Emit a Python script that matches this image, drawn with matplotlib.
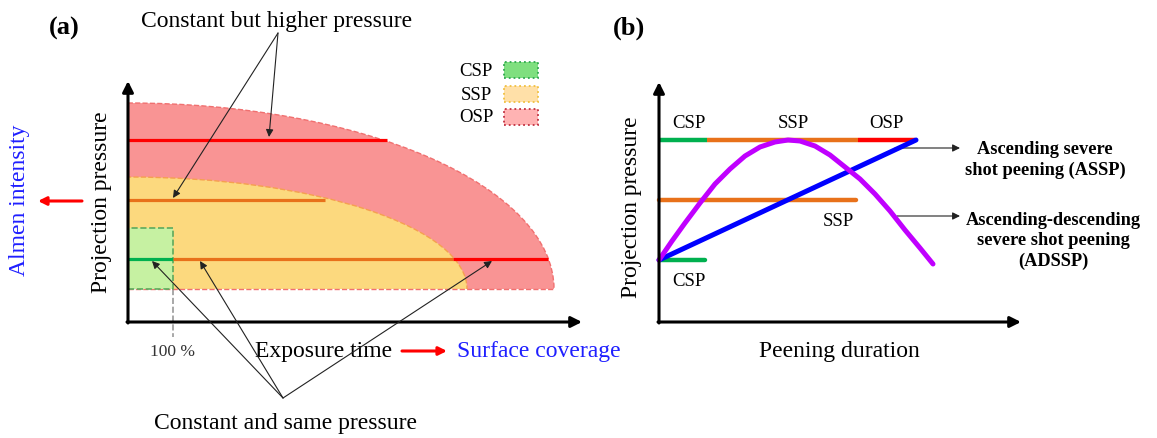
import numpy as np
import matplotlib.pyplot as plt
from matplotlib.patches import Ellipse, Rectangle

plt.rcParams['font.family'] = ['Liberation Serif', 'DejaVu Serif']

# ---- panel (a): exposure time vs projection pressure (schematic units) ----
region_base = 33
osp_extent, osp_top = 426, 219
ssp_extent, ssp_top = 339, 145
csp_extent, csp_top = 45, 94

level_high, level_mid, level_low = 182, 122, 63
high_end = 259        # OSP line at high pressure
mid_end = 197         # SSP line at medium pressure
low_breaks = [0, 45, 325, 420]   # CSP | SSP | OSP along the low-pressure line

legend_names = ['CSP', 'SSP', 'OSP']

# ---- panel (b): peening duration vs projection pressure ----
b_high, b_mid, b_low = 182, 122, 62
b_top_breaks = [0, 48, 199, 256]
b_mid_end = 197
b_low_end = 46
assp_x = [0, 257]
assp_y = [62, 182]
adssp_x = [0, 13, 26, 41, 56, 71, 86, 101, 116, 129, 141, 156, 171, 186, 201,
           216, 231, 246, 261, 274]
adssp_y = [62, 81, 99, 119, 138, 153, 166, 175, 180, 182, 181, 176, 167, 155,
           143, 128, 111, 92, 74, 58]

RED = '#FF0000'
ORANGE = '#E8711A'
GREEN = '#00B04F'

fig = plt.figure(figsize=(11.57, 4.39), dpi=100)

# both panels share the full figure, each with its origin at its own axis corner
ax = fig.add_axes([0, 0, 1, 1])
ax.set_xlim(-128, 1029)
ax.set_ylim(-116, 323)
ax.axis('off')

clip = Rectangle((0, region_base), 2000, 2000, transform=ax.transData)
osp = Ellipse((0, region_base), 2 * osp_extent, 2 * (osp_top - region_base),
              fc='#F99494', ec='#F07070', ls='--', lw=1, zorder=1)
ssp = Ellipse((0, region_base), 2 * ssp_extent, 2 * (ssp_top - region_base),
              fc='#FCD97E', ec='#F5A050', ls='--', lw=1, zorder=2)
for e in (osp, ssp):
    ax.add_patch(e)
    e.set_clip_path(clip)
ax.plot([0, osp_extent], [region_base, region_base], ls='--', color='#F07070', lw=1, zorder=2.5)
ax.add_patch(Rectangle((0, region_base), csp_extent, csp_top - region_base,
                       fc='#C6F1A2', ec='#5DAA5D', ls='--', lw=1.2, zorder=3))
ax.plot([csp_extent, csp_extent], [region_base, -15], ls='--', color='#999999', lw=1.2)

ax.plot([0, high_end], [level_high, level_high], color=RED, lw=2.3, solid_capstyle='butt', zorder=4)
ax.plot([0, mid_end], [level_mid, level_mid], color=ORANGE, lw=2.3, solid_capstyle='butt', zorder=4)
for (x0, x1), c in zip(zip(low_breaks[:-1], low_breaks[1:]), [GREEN, ORANGE, RED]):
    ax.plot([x0, x1], [level_low, level_low], color=c, lw=2.3, solid_capstyle='butt', zorder=4)

axis_arrow = dict(arrowstyle='-|>', color='black', lw=2.2, mutation_scale=16,
                  shrinkA=0, shrinkB=0)
thin_arrow = dict(arrowstyle='-|>', color='#222222', lw=0.8, mutation_scale=11,
                  shrinkA=0, shrinkB=0)
red_arrow = dict(arrowstyle='-|>', color=RED, lw=2.2, mutation_scale=12,
                 shrinkA=0, shrinkB=0)

ax.annotate('', xy=(0, 241), xytext=(0, -1), arrowprops=axis_arrow, zorder=6)
ax.annotate('', xy=(454, 0), xytext=(-1, 0), arrowprops=axis_arrow, zorder=6)

for tip in [(141, 185), (45, 124)]:
    ax.annotate('', xy=tip, xytext=(150, 289), arrowprops=thin_arrow, zorder=7)
for tip in [(24, 61), (72, 61), (364, 61)]:
    ax.annotate('', xy=tip, xytext=(155, -76), arrowprops=thin_arrow, zorder=7)

ax.text(-64, 295, '(a)', fontsize=19, fontweight='bold', ha='center', va='center')
ax.text(149, 302, 'Constant but higher pressure', fontsize=17, ha='center', va='center')
ax.text(157, -101, 'Constant and same pressure', fontsize=17, ha='center', va='center')
ax.text(45, -29, '100 %', fontsize=12.5, ha='center', va='center', color='#333333')
ax.text(196, -29, 'Exposure time', fontsize=17, ha='center', va='center')
ax.annotate('', xy=(319, -29), xytext=(274, -29), arrowprops=red_arrow)
ax.text(329, -29, 'Surface coverage', fontsize=17, ha='left', va='center', color='#1F1FFF')
ax.text(-26, 121, 'Projection pressure', fontsize=17, rotation=90, ha='center', va='center')
ax.text(-108, 123, 'Almen intensity', fontsize=17, rotation=90, ha='center', va='center',
        color='#1F1FFF')
ax.annotate('', xy=(-90, 121), xytext=(-46, 121), arrowprops=red_arrow)

legend_fc = ['#7FDF7F', '#FFE0A8', '#FFB3B3']
legend_ec = ['#2FA84F', '#F0C040', '#C03040']
legend_y = [252, 228, 205]
for name, fc, ec, y in zip(legend_names, legend_fc, legend_ec, legend_y):
    ax.text(348, y, name, fontsize=13.5, ha='center', va='center')
    ax.add_patch(Rectangle((376, y - 8), 34, 16, fc=fc, ec=ec, ls=':', lw=1.3))

# ---- panel (b) ----
bx = fig.add_axes([0, 0, 1, 1])
bx.set_xlim(-659, 498)
bx.set_ylim(-116, 323)
bx.axis('off')
bx.patch.set_alpha(0)

bx.annotate('', xy=(0, 240), xytext=(0, -1), arrowprops=axis_arrow, zorder=6)
bx.annotate('', xy=(362, 0), xytext=(-1, 0), arrowprops=axis_arrow, zorder=6)

for (x0, x1), c in zip(zip(b_top_breaks[:-1], b_top_breaks[1:]), [GREEN, ORANGE, RED]):
    bx.plot([x0, x1], [b_high, b_high], color=c, lw=3.2, solid_capstyle='butt', zorder=3)
bx.plot([0, b_mid_end], [b_mid, b_mid], color=ORANGE, lw=3.2, solid_capstyle='round', zorder=3)
bx.plot([0, b_low_end], [b_low, b_low], color=GREEN, lw=3.2, solid_capstyle='round', zorder=3)
bx.plot(assp_x, assp_y, color='#0000FF', lw=3.6, solid_capstyle='round', zorder=4)
bx.plot(adssp_x, adssp_y, color='#C000FF', lw=3.6, solid_capstyle='round', zorder=5)

bx.text(30, 200, 'CSP', fontsize=13.5, ha='center', va='center')
bx.text(134, 200, 'SSP', fontsize=13.5, ha='center', va='center')
bx.text(227, 200, 'OSP', fontsize=13.5, ha='center', va='center')
bx.text(179, 101, 'SSP', fontsize=13.5, ha='center', va='center')
bx.text(30, 42, 'CSP', fontsize=13.5, ha='center', va='center')

bx.text(-30, 295, '(b)', fontsize=19, fontweight='bold', ha='center', va='center')
bx.text(-27, 116, 'Projection pressure', fontsize=17, rotation=90, ha='center', va='center')
bx.text(180, -29, 'Peening duration', fontsize=17, ha='center', va='center')

bx.annotate('', xy=(301, 174), xytext=(236, 174), arrowprops=thin_arrow)
bx.annotate('', xy=(301, 106), xytext=(238, 106), arrowprops=thin_arrow)
bx.text(386, 163, 'Ascending severe\nshot peening (ASSP)', fontsize=13.2,
        fontweight='bold', ha='center', va='center', linespacing=1.25)
bx.text(394, 82, 'Ascending-descending\nsevere shot peening\n(ADSSP)', fontsize=13.2,
        fontweight='bold', ha='center', va='center', linespacing=1.25)

fig.savefig('out.png', dpi=100)
